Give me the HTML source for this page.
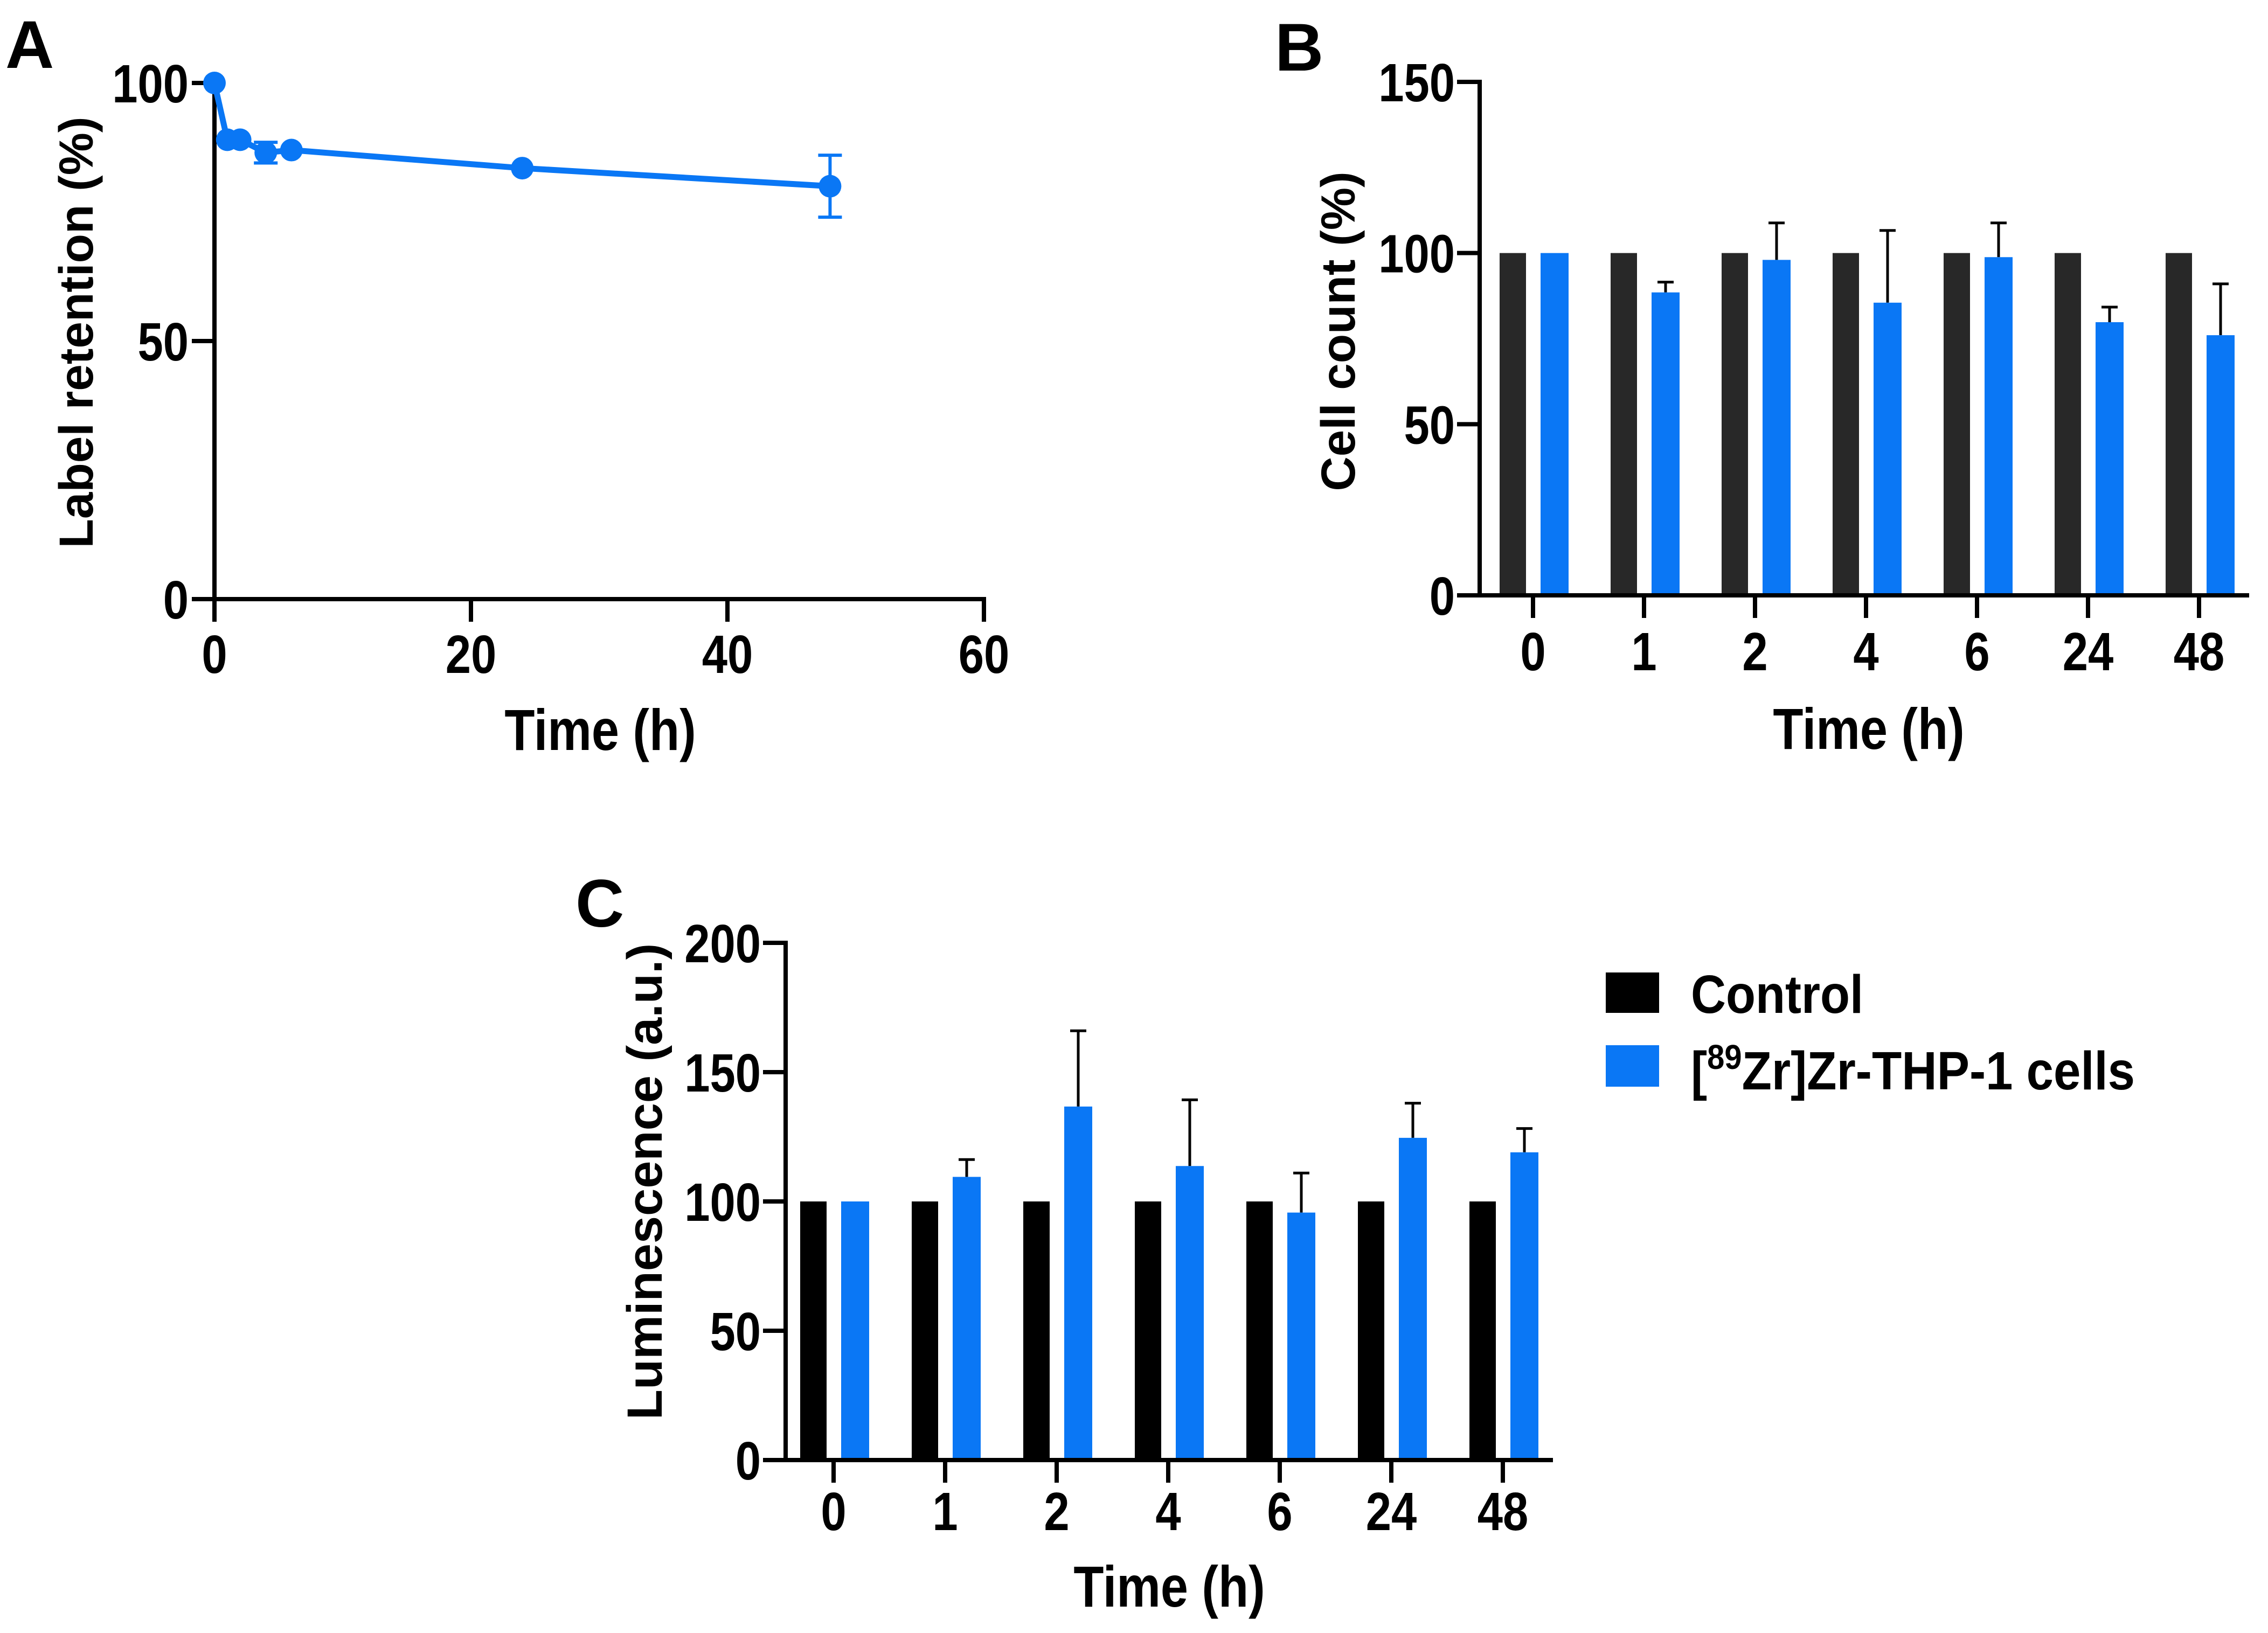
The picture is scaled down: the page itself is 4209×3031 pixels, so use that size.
<!DOCTYPE html>
<html><head><meta charset="utf-8">
<style>
html,body{margin:0;padding:0;background:#fff;}
svg{display:block;}
.n{font-family:"Liberation Sans Narrow","Liberation Sans",sans-serif;font-weight:bold;}
.w{font-family:"Liberation Sans",sans-serif;font-weight:bold;}
</style></head>
<body>
<svg id="fig" width="4209" height="3031" viewBox="0 0 4209 3031" xmlns="http://www.w3.org/2000/svg">
<text x="10" y="126" class="w" font-size="125">A</text>
<text x="2366" y="131" class="w" font-size="125">B</text>
<text x="1068" y="1720" class="w" font-size="125">C</text>
<g id="gA"></g>
<g id="gB"></g>
<g id="gC"></g>
<g>
<rect x="2980" y="1805" width="99" height="75" fill="#000"/>
<text x="3138" y="1880" class="n" font-size="100" textLength="320" lengthAdjust="spacingAndGlyphs">Control</text>
<rect x="2980" y="1940" width="99" height="77" fill="#0a77f5"/>
<text x="3138" y="2022" class="n" font-size="100" textLength="824" lengthAdjust="spacingAndGlyphs">[<tspan dy="-38" font-size="64">89</tspan><tspan dy="38">Zr]Zr-THP-1 cells</tspan></text>
</g>
</svg>
<script>
// Panel A data
const aTimes=[0,1,2,4,6,24,48];
const aValues=[100,89,89,86.5,87,83.5,80];
const aErrors=[0,0,0,2,0,0,6];
const aXTicks=[0,20,40,60];
const aYTicks=[0,50,100];
// Panel B data
const bCategories=["0","1","2","4","6","24","48"];
const bControl=[100,100,100,100,100,100,100];
const bLabeled=[100,88.5,98,85.5,98.8,79.8,76];
const bLabeledErr=[0,3,10.8,21.1,10,4.4,15];
const bYTicks=[0,50,100,150];
// Panel C data
const cCategories=["0","1","2","4","6","24","48"];
const cControl=[100,100,100,100,100,100,100];
const cLabeled=[100,109.5,136.7,113.7,95.7,124.6,119];
const cLabeledErr=[0,6.7,29.3,25.6,15.3,13.4,9.2];
const cYTicks=[0,50,100,150,200];

const NS="http://www.w3.org/2000/svg";
const BLUE="#0a77f5";
function mk(parent,tag,attrs,text){const e=document.createElementNS(NS,tag);for(const k in attrs)e.setAttribute(k,attrs[k]);if(text!==undefined)e.textContent=text;parent.appendChild(e);return e;}

// ---------- Panel A ----------
(function(){
const g=document.getElementById('gA');
const x0=398,x1=1826,y0=1112,y1=154;
const xs=t=>x0+(t/60)*(x1-x0);
const ys=v=>y0-(v/100)*(y0-y1);
let e;
e=mk(g,'line',{x1:x0,y1:y1-4,x2:x0,y2:y0+4,stroke:'#000','stroke-width':8});


e=mk(g,'line',{x1:x0-4,y1:y0,x2:x1+4,y2:y0,stroke:'#000','stroke-width':8});


aYTicks.forEach(v=>{
 const y=ys(v);
 e=mk(g,'line',{x1:x0-42,y1:y,x2:x0,y2:y,stroke:'#000','stroke-width':8});
 
 
 e=mk(g,'text',{x:x0-48,y:y+36,'text-anchor':'end','font-size':100,class:'n cond'},String(v));
 
 
});
aXTicks.forEach(v=>{
 const x=xs(v);
 e=mk(g,'line',{x1:x,y1:y0,x2:x,y2:y0+42,stroke:'#000','stroke-width':8});
 
 
 e=mk(g,'text',{x:x,y:1249,'text-anchor':'middle','font-size':100,class:'n cond'},String(v));
 
 
});
e=mk(g,'text',{x:1114,y:1392,'text-anchor':'middle','font-size':108,class:'n cond'},'Time (h)');


e=mk(g,'text',{x:0,y:0,'text-anchor':'middle','font-size':89,class:'w',transform:'translate(172,617) rotate(-90)'},'Label retention (%)');


const pts=aTimes.map((t,i)=>xs(t)+','+ys(aValues[i])).join(' ');
e=mk(g,'polyline',{points:pts,fill:'none',stroke:BLUE,'stroke-width':11,'stroke-linejoin':'round'});


aTimes.forEach((t,i)=>{
 const x=xs(t);
 if(aErrors[i]>0){
  const ya=ys(aValues[i]+aErrors[i]),yb=ys(aValues[i]-aErrors[i]);
  e=mk(g,'path',{d:`M${x},${ya}V${yb}M${x-22},${ya}H${x+22}M${x-22},${yb}H${x+22}`,stroke:BLUE,'stroke-width':6,fill:'none'});
  
  
 }
 e=mk(g,'circle',{cx:x,cy:ys(aValues[i]),r:21,fill:BLUE});
 
 
});
})();

// ---------- Bar panel helper ----------
function barPanel(g,p,cats,ctrl,lab,err,ticks,ymax,prefix,ctrlColor,ytitle,yfs){
const ys=v=>p.y0-(v/ymax)*(p.y0-p.y1);
const xc=i=>p.first+i*p.step;
let e;
cats.forEach((c,i)=>{
 const x=xc(i);
 e=mk(g,'rect',{x:x-62,y:ys(ctrl[i]),width:49,height:p.y0-ys(ctrl[i]),fill:ctrlColor});
 
 
 const yt=ys(lab[i]);
 if(err[i]>0){
  const ye=ys(lab[i]+err[i]);
  e=mk(g,'path',{d:`M${x+40},${yt}V${ye}M${x+25},${ye}H${x+55}`,stroke:'#000','stroke-width':5,fill:'none'});
  
  
 }
 e=mk(g,'rect',{x:x+14,y:yt,width:52,height:p.y0-yt,fill:BLUE});
 
 
 e=mk(g,'line',{x1:x,y1:p.y0,x2:x,y2:p.y0+42,stroke:'#000','stroke-width':8});
 
 
 e=mk(g,'text',{x:x,y:p.xlabY,'text-anchor':'middle','font-size':100,class:'n cond'},c);
 
 
});
e=mk(g,'line',{x1:p.x0,y1:p.y1-4,x2:p.x0,y2:p.y0+4,stroke:'#000','stroke-width':8});


e=mk(g,'line',{x1:p.x0-4,y1:p.y0,x2:p.x1,y2:p.y0,stroke:'#000','stroke-width':8});


ticks.forEach(v=>{
 const y=ys(v);
 e=mk(g,'line',{x1:p.x0-42,y1:y,x2:p.x0,y2:y,stroke:'#000','stroke-width':8});
 
 
 e=mk(g,'text',{x:p.x0-46,y:y+36,'text-anchor':'end','font-size':100,class:'n cond'},String(v));
 
 
});
e=mk(g,'text',{x:p.titleX,y:p.titleY,'text-anchor':'middle','font-size':108,class:'n cond'},'Time (h)');


e=mk(g,'text',{x:0,y:0,'text-anchor':'middle','font-size':yfs,class:'w',transform:`translate(${p.ylabX},${p.ylabY}) rotate(-90)`},ytitle);


}
barPanel(document.getElementById('gB'),{x0:2746,x1:4174,y0:1105,y1:152,first:2845,step:206,xlabY:1244,titleX:3468,titleY:1390,ylabX:2514,ylabY:615},
 bCategories,bControl,bLabeled,bLabeledErr,bYTicks,150,'b','#282828','Cell count (%)',89);
barPanel(document.getElementById('gC'),{x0:1458,x1:2882,y0:2710,y1:1750,first:1547,step:207,xlabY:2840,titleX:2170,titleY:2982,ylabX:1228,ylabY:2193},
 cCategories,cControl,cLabeled,cLabeledErr,cYTicks,200,'c','#000','Luminescence (a.u.)',92);

// condense tick labels and axis titles to mimic condensed font
document.querySelectorAll('text.cond').forEach(t=>{
 const w=t.getComputedTextLength();
 t.setAttribute('textLength',(w*0.85).toFixed(1));
 t.setAttribute('lengthAdjust','spacingAndGlyphs');
});
</script>
</body></html>
